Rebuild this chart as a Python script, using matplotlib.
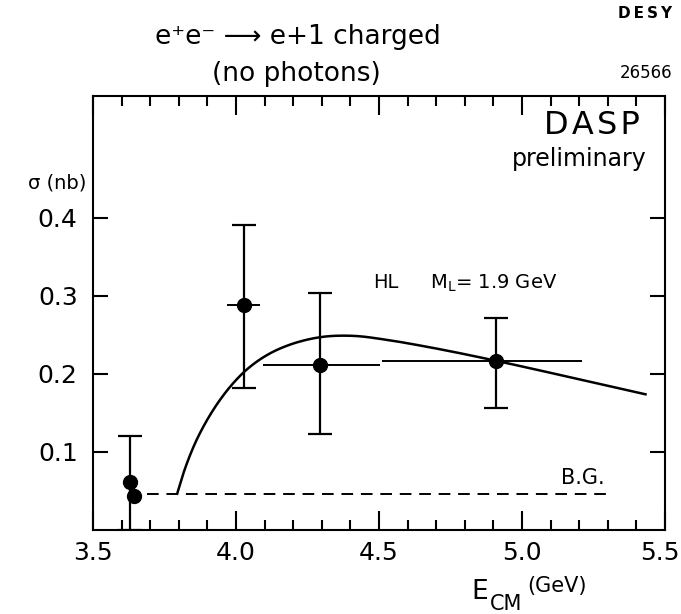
import matplotlib
matplotlib.use("Agg")
import matplotlib.pyplot as plt
from matplotlib.transforms import ScaledTranslation
import numpy as np

plt.rcParams['font.family'] = ['DejaVu Sans']
plt.rcParams['mathtext.fontset'] = 'dejavusans'
plt.rcParams['mathtext.default'] = 'regular'

# Measured cross sections, e+e- -> e + 1 charged (no photons)
e_cm = [3.630, 3.645, 4.028, 4.294, 4.909]
sigma = [0.062, 0.043, 0.288, 0.212, 0.217]
sigma_err_lo = [0.062, 0.0, 0.106, 0.089, 0.061]
sigma_err_hi = [0.058, 0.0, 0.103, 0.091, 0.055]
e_err_lo = [0.0, 0.0, 0.061, 0.199, 0.400]
e_err_hi = [0.0, 0.0, 0.056, 0.209, 0.300]

# Heavy lepton prediction, M_L = 1.9 GeV
hl_e = [3.793, 3.816, 3.839, 3.862, 3.886, 3.921, 3.955, 3.991, 4.026,
        4.072, 4.119, 4.177, 4.235, 4.294, 4.410, 4.527, 4.643, 4.760,
        4.899, 4.993, 5.110, 5.226, 5.343, 5.436]
hl_sigma = [0.0450, 0.0726, 0.0956, 0.1152, 0.1325, 0.1542, 0.1722, 0.1884,
            0.2017, 0.2155, 0.2263, 0.2359, 0.2426, 0.2470, 0.2487, 0.2436,
            0.2364, 0.2282, 0.2176, 0.2101, 0.2005, 0.1909, 0.1812, 0.1735]

# Background level
bg_e = [3.690, 5.318]
bg_sigma = [0.046, 0.046]

x_ticks = [3.5, 4.0, 4.5, 5.0, 5.5]
x_ticklabels = ['3.5', '4.0', '4.5', '5.0', '5.5']
y_ticks = [0.1, 0.2, 0.3, 0.4]
y_ticklabels = ['0.1', '0.2', '0.3', '0.4']

W, H = 681, 614
fig = plt.figure(figsize=(W / 100, H / 100), dpi=100)
ax = fig.add_axes([93 / W, 1 - 530 / H, (665 - 93) / W, (530 - 96) / H])


def hermite(xk, yk, xq):
    """Cubic Hermite curve through (xk, yk) with finite-difference slopes."""
    m = np.gradient(yk, xk)
    idx = np.clip(np.searchsorted(xk, xq) - 1, 0, len(xk) - 2)
    x0, x1 = xk[idx], xk[idx + 1]
    y0, y1 = yk[idx], yk[idx + 1]
    m0, m1 = m[idx], m[idx + 1]
    h = x1 - x0
    s = (xq - x0) / h
    h00 = 2 * s**3 - 3 * s**2 + 1
    h10 = s**3 - 2 * s**2 + s
    h01 = -2 * s**3 + 3 * s**2
    h11 = s**3 - s**2
    return h00 * y0 + h10 * h * m0 + h01 * y1 + h11 * h * m1


xs = np.array(hl_e)
ys = np.array(hl_sigma)
xq = np.linspace(xs[0], xs[-1], 600)
ax.plot(xq, hermite(xs, ys, xq), color='black', lw=1.8, solid_capstyle='butt')

ax.plot(bg_e, bg_sigma, color='black', lw=1.4, linestyle=(0, (6, 4)))

# data points
ax.plot(e_cm, sigma, 'o', color='black', ms=10, zorder=4)

# vertical error bars with caps, horizontal bin widths without caps
for x, y, lo, hi, xl, xh in zip(e_cm, sigma, sigma_err_lo, sigma_err_hi,
                                e_err_lo, e_err_hi):
    if lo > 0 or hi > 0:
        ax.errorbar([x], [y], yerr=[[lo], [hi]], fmt='none', ecolor='black',
                    elinewidth=1.6, capsize=8.5, capthick=1.6)
    if xl > 0 or xh > 0:
        ax.errorbar([x], [y], xerr=[[xl], [xh]], fmt='none', ecolor='black',
                    elinewidth=1.4, capsize=0)

ax.set_xlim(3.5, 5.5)
ax.set_ylim(0, 0.556)

for sp in ax.spines.values():
    sp.set_linewidth(1.5)

ax.set_xticks(x_ticks)
ax.set_xticklabels(x_ticklabels)
ax.set_xticks(np.arange(3.6, 5.45, 0.1), minor=True)
ax.set_yticks(y_ticks)
ax.set_yticklabels(y_ticklabels)
ax.tick_params(axis='x', which='major', direction='in', length=14, width=1.5,
               labelsize=18, pad=8, top=True)
ax.tick_params(axis='x', which='minor', direction='in', length=7, width=1.5,
               top=True)
ax.tick_params(axis='y', which='major', direction='in', length=11, width=1.5,
               labelsize=18, pad=11, right=True)
ax.tick_params(axis='y', which='minor', left=False, right=False)

# keep the last x label inside the figure edge
last = ax.get_xticklabels()[-1]
last.set_horizontalalignment('right')
last.set_transform(last.get_transform()
                   + ScaledTranslation(15 / 100, 0, fig.dpi_scale_trans))


def fx(px):
    return px / W


def fy(py):
    return 1 - py / H


fig.text(fx(155), fy(37), 'e\u207ae\u207b \u27f6 e+1 charged', fontsize=19,
         ha='left', va='center')
fig.text(fx(296), fy(74), '(no photons)', fontsize=19, ha='center', va='center')
fig.text(fx(672), fy(13), 'D\u2009E\u2009S\u2009Y', fontsize=11,
         fontweight='heavy', ha='right', va='center')
fig.text(fx(672), fy(73), '26566', fontsize=12, ha='right', va='center')

fig.text(fx(640), fy(126), 'D\u200aA\u200aS\u200aP', fontsize=23,
         ha='right', va='center')
fig.text(fx(647), fy(159), 'preliminary', fontsize=17, ha='right', va='center')
fig.text(fx(28), fy(183), '\u03c3 (nb)', fontsize=14, ha='left', va='center')
fig.text(fx(373), fy(283), 'HL', fontsize=14, ha='left', va='center')
fig.text(fx(430), fy(283), 'M$_L$= 1.9 GeV', fontsize=14, ha='left', va='center')
fig.text(fx(583), fy(478), 'B.G.', fontsize=15, ha='center', va='center')
fig.text(fx(471), fy(592), 'E', fontsize=19, ha='left', va='center')
fig.text(fx(490), fy(604), 'CM', fontsize=15, ha='left', va='center')
fig.text(fx(527), fy(586), '(GeV)', fontsize=15, ha='left', va='center')

fig.savefig('out.png', dpi=100)
